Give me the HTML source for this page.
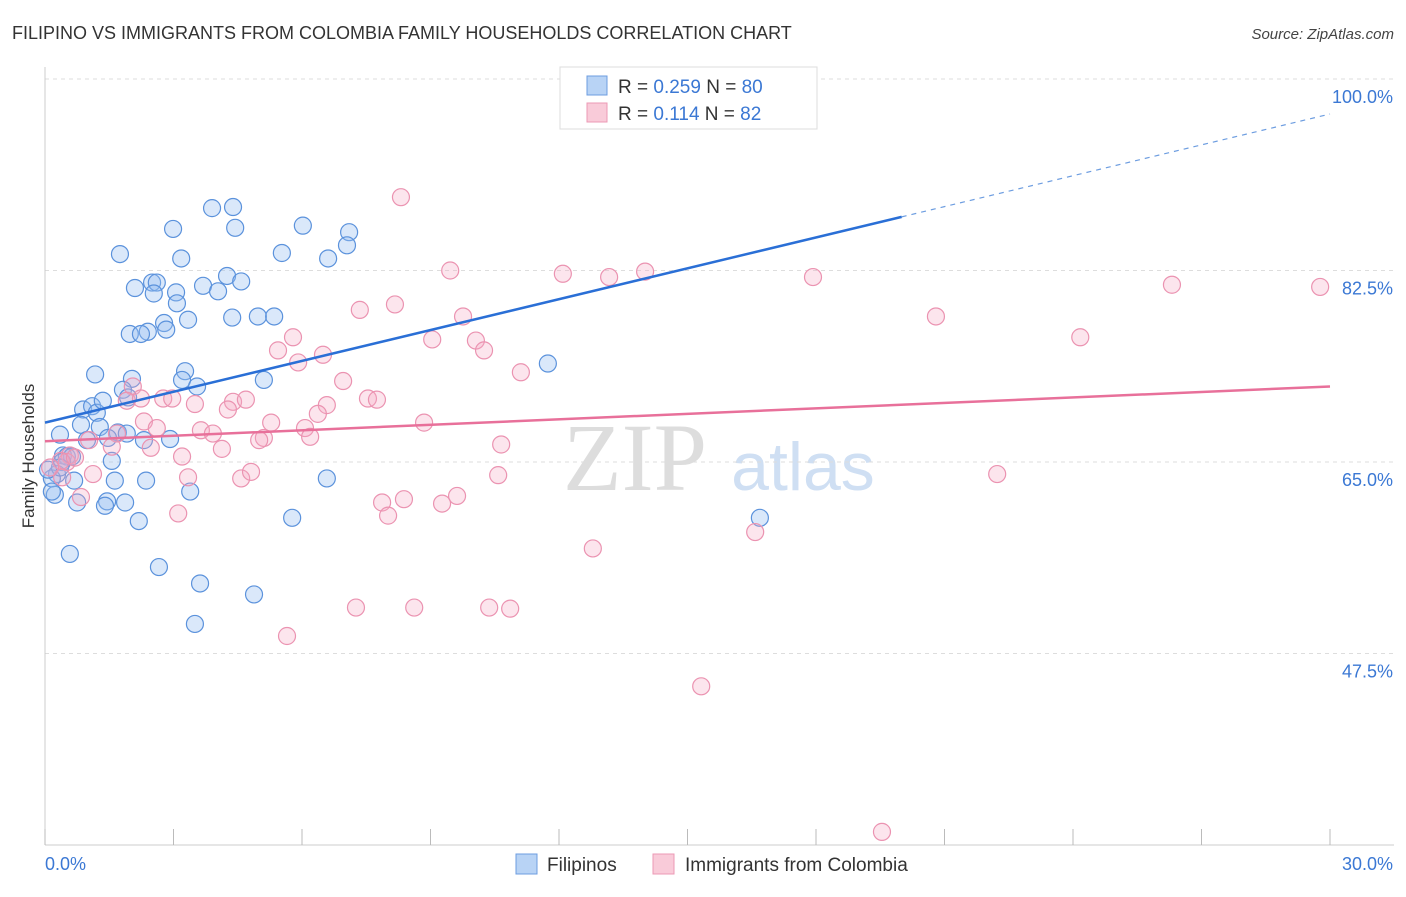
<!DOCTYPE html>
<html><head><meta charset="utf-8"><style>
body{margin:0;background:#fff;font-family:"Liberation Sans",sans-serif}
</style></head><body>
<svg id="chart" width="1406" height="892" xmlns="http://www.w3.org/2000/svg" font-family="Liberation Sans, sans-serif">
<text x="12" y="39" font-size="18" fill="#333">FILIPINO VS IMMIGRANTS FROM COLOMBIA FAMILY HOUSEHOLDS CORRELATION CHART</text>
<text x="1394" y="39" font-size="15" fill="#444" text-anchor="end" font-style="italic">Source: ZipAtlas.com</text>
<text transform="translate(34,456) rotate(-90)" font-size="17" fill="#333" text-anchor="middle">Family Households</text>
<g><text x="635" y="490" font-size="96" fill="#ddd" text-anchor="middle" font-family="Liberation Serif, serif">ZIP</text><text x="803" y="490" font-size="68" fill="#cfdff3" text-anchor="middle">atlas</text></g>
<g id="grid"></g><g id="axes"></g><g id="pts"></g><g id="lines"></g>
<g>
<rect x="560" y="67" width="257" height="62" fill="#fff" stroke="#ddd"/>
<rect x="587" y="76" width="20" height="19" fill="#b8d3f5" stroke="#6d9de0"/>
<rect x="587" y="103" width="20" height="19" fill="#f9cbd9" stroke="#ec9ab5"/>
<text x="618" y="93" font-size="19" fill="#333">R = <tspan fill="#3b78d4">0.259</tspan>   N = <tspan fill="#3b78d4">80</tspan></text>
<text x="618" y="120" font-size="19" fill="#333">R =  <tspan fill="#3b78d4">0.114</tspan>   N =  <tspan fill="#3b78d4">82</tspan></text>
</g>
<g>
<rect x="516" y="854" width="21" height="20" fill="#b8d3f5" stroke="#6d9de0"/>
<text x="547" y="871" font-size="19" fill="#333">Filipinos</text>
<rect x="653" y="854" width="21" height="20" fill="#f9cbd9" stroke="#ec9ab5"/>
<text x="685" y="871" font-size="19" fill="#333">Immigrants from Colombia</text>
</g>
</svg>
<script>
const yTicks=[100,82.5,65,47.5];
const yTickLabels=["100.0%","82.5%","65.0%","47.5%"];
const xTickCount=10;
const xLabels=["0.0%","30.0%"];
const blueX=[1.75,2.99,3.90,4.39,4.44,6.02,7.10,7.05,5.53,6.61,3.18,2.10,2.50,2.61,2.54,3.06,3.08,3.69,4.04,4.25,4.58,4.37,4.97,5.35,3.34,2.78,2.83,2.40,1.98,2.24,3.27,3.20,3.55,5.11,11.74,1.17,2.03,1.82,1.94,0.89,1.10,1.21,1.35,0.84,1.28,0.98,0.35,1.70,1.91,1.47,2.31,2.92,0.42,0.51,0.63,0.40,1.56,0.28,0.16,0.68,1.63,2.36,1.45,1.87,1.40,0.75,0.23,0.16,3.39,6.58,5.77,2.19,16.69,0.58,2.66,3.62,4.88,3.50,0.35,0.07];
const blueY=[84.0,86.3,88.2,88.3,86.4,86.6,86.0,84.8,84.1,83.6,83.6,80.9,81.4,81.4,80.4,80.5,79.5,81.1,80.6,82.0,81.5,78.2,78.3,78.3,78.0,77.7,77.1,76.9,76.7,76.7,73.3,72.5,71.9,72.5,74.0,73.0,72.6,71.6,70.9,69.8,70.1,69.5,70.6,68.4,68.2,67.0,67.5,67.7,67.6,67.2,67.0,67.1,65.6,65.5,65.5,65.0,65.1,63.9,63.5,63.3,63.3,63.3,61.4,61.3,61.0,61.3,62.0,62.3,62.3,63.5,59.9,59.6,59.9,56.6,55.4,53.9,52.9,50.2,64.5,64.3];
const pinkX=[8.31,9.46,12.09,13.17,14.01,17.93,26.31,29.77,8.17,7.35,9.76,20.80,24.17,5.79,9.04,10.06,10.25,5.44,6.49,5.91,11.11,6.96,2.05,2.76,2.97,1.91,2.24,3.50,4.39,4.69,4.27,6.58,6.37,7.54,7.75,5.28,6.07,3.64,3.92,2.31,2.61,1.68,1.03,1.56,2.47,4.13,6.19,5.11,5.00,8.85,10.65,3.20,0.58,0.51,0.37,1.12,0.40,3.34,4.58,4.81,10.58,22.23,0.84,3.11,7.87,8.38,9.62,9.27,8.01,12.79,16.58,7.26,8.62,10.37,10.86,5.65,15.32,19.54,0.12,0.70];
const pinkY=[89.2,82.5,82.2,81.9,82.4,81.9,81.2,81.0,79.4,78.9,78.3,78.3,76.4,76.4,76.2,76.1,75.2,75.2,74.8,74.1,73.2,72.4,71.9,70.8,70.8,70.6,70.8,70.3,70.5,70.7,69.8,70.2,69.4,70.8,70.7,68.6,68.1,67.9,67.6,68.7,68.1,67.6,67.0,66.4,66.3,66.2,67.3,67.2,67.0,68.6,66.6,65.5,65.6,65.0,65.1,63.9,63.6,63.6,63.5,64.1,63.8,63.9,61.8,60.3,61.3,61.6,61.9,61.2,60.1,57.1,58.6,51.7,51.7,51.7,51.6,49.1,44.5,31.2,64.5,65.4];
const blueTrend=[68.6,96.8];const blueSolidEnd=20.0;
const pinkTrend=[66.9,71.9];
const NS="http://www.w3.org/2000/svg";
const X0=45,X1=1330,Y100=79,YSC=10.943;
const xs=v=>X0+(X1-X0)*v/30;
const ys=v=>Y100+(100-v)*YSC;
function mk(tag,attrs,parent){const e=document.createElementNS(NS,tag);for(const k in attrs)e.setAttribute(k,attrs[k]);document.getElementById(parent).appendChild(e);return e;}
yTicks.forEach((t,i)=>{
 const l=mk('line',{x1:X0,x2:1394,y1:ys(t),y2:ys(t),stroke:'#ddd','stroke-dasharray':'4,4'},'grid');
 
 
 const tx=mk('text',{x:1393,y:ys(t)+24,'font-size':18,fill:'#3b78d4','text-anchor':'end'},'grid');
 tx.textContent=yTickLabels[i];
 
 
});
const ax=mk('line',{x1:X0,x2:X0,y1:67,y2:845,stroke:'#ccc'},'axes');


const bx=mk('line',{x1:X0,x2:1394,y1:845,y2:845,stroke:'#ccc'},'axes');


for(let i=0;i<=xTickCount;i++){
 const v=30*i/xTickCount;
 const t=mk('line',{x1:xs(v),x2:xs(v),y1:829,y2:845,stroke:'#bbb'},'axes');
 
 
}
[[0,'start',X0],[30,'end',1393]].forEach((a,i)=>{
 const t=mk('text',{x:a[2],y:870,'font-size':18,fill:'#3b78d4','text-anchor':a[1]},'axes');
 t.textContent=xLabels[i];
 
 
});
function pts(X,Y,fill,stroke,name){X.forEach((x,i)=>{
 const c=mk('circle',{cx:xs(x),cy:ys(Y[i]),r:8.5,fill:fill,stroke:stroke,'stroke-width':1.2},'pts');
 
 
});}
pts(blueX,blueY,'rgba(150,190,240,0.35)','#5b92dc','filipino-point');
pts(pinkX,pinkY,'rgba(245,170,195,0.3)','#eb93b1','colombia-point');
function yAt(tr,x){return tr[0]+(tr[1]-tr[0])*x/30;}
let l=mk('line',{x1:xs(0),y1:ys(blueTrend[0]),x2:xs(blueSolidEnd),y2:ys(yAt(blueTrend,blueSolidEnd)),stroke:'#2a6fd6','stroke-width':2.5},'lines');


l=mk('line',{x1:xs(blueSolidEnd),y1:ys(yAt(blueTrend,blueSolidEnd)),x2:xs(30),y2:ys(blueTrend[1]),stroke:'#6d9de0','stroke-width':1.2,'stroke-dasharray':'5,5'},'lines');


l=mk('line',{x1:xs(0),y1:ys(pinkTrend[0]),x2:xs(30),y2:ys(pinkTrend[1]),stroke:'#e8709a','stroke-width':2.5},'lines');


</script>
</body></html>
